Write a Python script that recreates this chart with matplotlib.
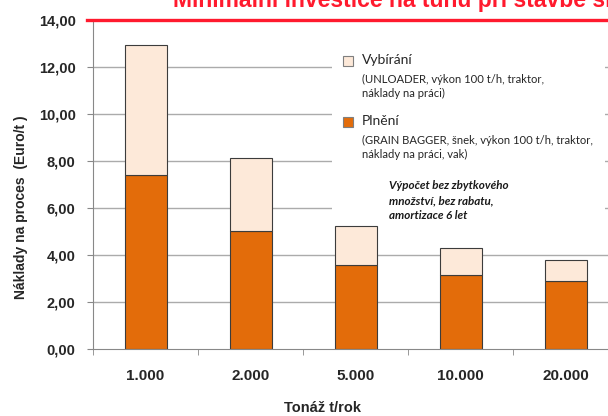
import matplotlib
matplotlib.use("Agg")
import matplotlib.pyplot as plt
from matplotlib.patches import Rectangle

plt.rcParams['font.family'] = ['Lato', 'DejaVu Sans']
BOLD = ['Liberation Sans', 'DejaVu Sans']

# data
tonnage = ['1.000', '2.000', '5.000', '10.000', '20.000']
plneni = [7.40, 5.03, 3.60, 3.15, 2.92]
vybirani = [5.57, 3.13, 1.64, 1.16, 0.88]
yticks = [0, 2, 4, 6, 8, 10, 12, 14]

orange = '#e36c0a'
peach = '#fde9d9'
edge = '#3c3c3c'
red = '#ff1a2e'
dark = '#262626'

fig = plt.figure(figsize=(6.08, 4.16), dpi=100)
ax = fig.add_axes([93 / 608, 66.7 / 416, 525 / 608, 329 / 416])

x = list(range(len(tonnage)))
ax.bar(x, plneni, width=0.4, color=orange, edgecolor=edge, linewidth=0.8, zorder=2)
ax.bar(x, vybirani, width=0.4, bottom=plneni, color=peach, edgecolor=edge,
       linewidth=0.8, zorder=2)

ax.set_xlim(-0.5, len(tonnage) - 0.5)
ax.set_ylim(0, 14)

ax.set_yticks(yticks)
ax.set_yticklabels([f"{v:.2f}".replace('.', ',') for v in yticks],
                   fontsize=10.5, fontweight='bold', color=dark, family=BOLD)
ax.set_xticks(x)
ax.set_xticklabels(tonnage, fontsize=11, fontweight='bold', color=dark, family=BOLD)
ax.set_xticks([i - 0.5 for i in x], minor=True)
ax.tick_params(axis='x', which='major', length=0, pad=14)
ax.tick_params(axis='x', which='minor', length=4, color='#888888', direction='out')
ax.tick_params(axis='y', length=4, color='#888888', pad=8.5)

ax.set_axisbelow(True)
for v in yticks[1:-1]:
    ax.axhline(v, color='#ababab', linewidth=1.0, zorder=0.5)

for s in ['top', 'right']:
    ax.spines[s].set_visible(False)
ax.spines['left'].set_color('#888888')
ax.spines['bottom'].set_color('#888888')

# red line at the top of the value axis
ax.axhline(14, xmin=-0.012, xmax=1, color=red, linewidth=2.4, clip_on=False, zorder=3)

ax.set_xlabel('Tonáž t/rok', fontsize=10.5, fontweight='bold', color=dark, family=BOLD)
ax.xaxis.set_label_coords((322 - 93) / 525, -0.157)
ax.set_ylabel('Náklady na proces  (Euro/t )', fontsize=10, fontweight='bold',
              color=dark, family=BOLD)
ax.yaxis.set_label_coords(-0.124, 0.431)

# legend block drawn by hand
ax.add_patch(Rectangle((0.456, 0.39), 0.52, 0.555, transform=ax.transAxes,
                       facecolor='white', edgecolor='none', zorder=1))


def px(xp, yp):
    return (xp - 93) / 525, (349.3 - yp) / 329


for yp, col, name, sub in [
        (60.5, peach, 'Vybírání',
         '(UNLOADER, výkon 100 t/h, traktor,\nnáklady na práci)'),
        (121.5, orange, 'Plnění',
         '(GRAIN BAGGER, šnek, výkon 100 t/h, traktor,\nnáklady na práci, vak)')]:
    mx, my = px(343, yp + 5)
    ax.add_patch(Rectangle((mx, my), 10 / 525, 10 / 329, transform=ax.transAxes,
                           facecolor=col, edgecolor='#7f7f7f', linewidth=0.8,
                           zorder=3))
    tx, ty = px(362, yp)
    ax.text(tx, ty, name, transform=ax.transAxes, fontsize=10, va='center',
            color=dark, zorder=3)
    sx, sy = px(362, yp + 13)
    ax.text(sx, sy, sub, transform=ax.transAxes, fontsize=8.1, va='top',
            color=dark, linespacing=1.4, zorder=3)

nx, ny = px(389, 180)
ax.text(nx, ny, 'Výpočet bez zbytkového\nmnožství, bez rabatu,\namortizace 6 let',
        transform=ax.transAxes, fontsize=8.4, fontweight='bold', style='italic',
        va='top', color='#1a1a1a', linespacing=1.45, zorder=3)

fig.text(173 / 608, 1 - 7 / 416, 'Minimální investice na tunu při stavbě sil',
         fontsize=16.5, fontweight='bold', color=red, va='baseline', family=BOLD)

fig.savefig('out.png', dpi=100)
